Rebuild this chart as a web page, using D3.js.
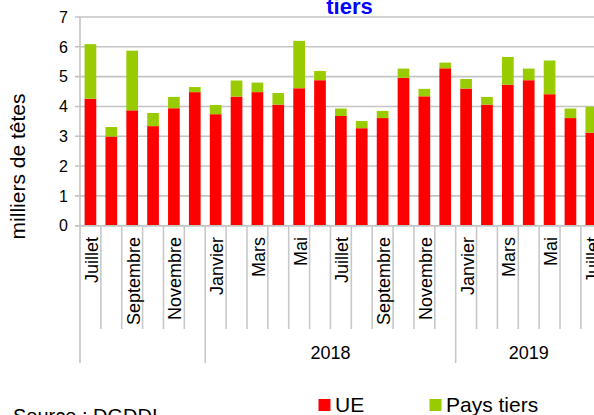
<!DOCTYPE html>
<html><head><meta charset="utf-8">
<script src="https://cdn.jsdelivr.net/npm/d3@7"></script>
<style>html,body{margin:0;padding:0;background:#fff;overflow:hidden}svg{display:block}</style>
</head><body>
<script>
const months = ["Juillet","Août","Septembre","Octobre","Novembre","Décembre","Janvier","Février","Mars","Avril","Mai","Juin","Juillet","Août","Septembre","Octobre","Novembre","Décembre","Janvier","Février","Mars","Avril","Mai","Juin","Juillet"];
const years = ["", "2018", "2019"];
const yearCounts = [6, 12, 7];
const ue = [4.26,2.99,3.87,3.34,3.94,4.48,3.74,4.33,4.48,4.06,4.61,4.88,3.68,3.27,3.61,4.96,4.34,5.28,4.60,4.06,4.73,4.88,4.41,3.61,3.12];
const paysTiers = [1.83,0.32,2.00,0.44,0.38,0.17,0.31,0.54,0.32,0.39,1.59,0.31,0.25,0.24,0.24,0.31,0.25,0.19,0.32,0.26,0.93,0.39,1.13,0.32,0.87];
const yTicks = [0,1,2,3,4,5,6,7];
const seriesNames = ["UE","Pays tiers"];
const colors = ["#ff0000","#99cc00"];

const W = 594, H = 415;
const font = "'Liberation Sans', Arial, sans-serif";
const svg = d3.select("body").append("svg").attr("width", W).attr("height", H);

const x0 = 80, step = 20.87;
const x = d3.scaleBand().domain(d3.range(months.length)).range([x0, x0 + step * months.length]).paddingInner(0.44).paddingOuter(0.22);
const y = d3.scaleLinear().domain([0, 7]).range([225.7, 17]);

// gridlines
svg.append("g").selectAll("line").data(yTicks).join("line")
  .attr("x1", 75).attr("x2", x.range()[1])
  .attr("y1", d => y(d)).attr("y2", d => y(d))
  .attr("stroke", "#c4c4c4").attr("stroke-width", 1.6);

// y tick labels
svg.append("g").selectAll("text").data(yTicks).join("text")
  .attr("x", 68).attr("y", d => y(d)).attr("dy", "0.36em")
  .attr("text-anchor", "end").attr("font-family", font).attr("font-size", 16).attr("fill", "#000")
  .text(d => d);

// stacked bars
const rows = months.map((m, i) => ({i, UE: ue[i], "Pays tiers": paysTiers[i]}));
const stack = d3.stack().keys(seriesNames)(rows);
svg.append("g").selectAll("g").data(stack).join("g").attr("fill", (d, k) => colors[k])
  .selectAll("rect").data(d => d).join("rect")
  .attr("x", d => x(d.data.i)).attr("width", x.bandwidth())
  .attr("y", d => y(d[1])).attr("height", d => y(d[0]) - y(d[1]));

// axis line at 0
svg.append("line").attr("x1", 75).attr("x2", x.range()[1]).attr("y1", y(0)).attr("y2", y(0))
  .attr("stroke", "#c4c4c4").attr("stroke-width", 1.6);
// left axis
svg.append("line").attr("x1", x0).attr("x2", x0).attr("y1", y(7)).attr("y2", 363)
  .attr("stroke", "#c4c4c4").attr("stroke-width", 1.6);

// category separators
const bounds = d3.range(1, months.length + 1).map(i => x0 + i * step);
const groupStarts = [];
let acc = 0;
yearCounts.forEach(c => { groupStarts.push(acc); acc += c; });
const groupBoundIdx = new Set(groupStarts.concat([acc]));
svg.append("g").selectAll("line").data(d3.range(1, months.length + 1)).join("line")
  .attr("x1", i => x0 + i * step).attr("x2", i => x0 + i * step)
  .attr("y1", y(0)).attr("y2", i => groupBoundIdx.has(i) ? 363 : 329)
  .attr("stroke", "#c8c8c8").attr("stroke-width", 1.6);

// month labels (every other)
svg.append("g").selectAll("text").data(months.map((m, i) => ({m, i})).filter(d => d.i % 2 === 0)).join("text")
  .attr("transform", d => `translate(${x(d.i) + x.bandwidth() / 2 + 7.5},237) rotate(-90)`)
  .attr("text-anchor", "end").attr("font-family", font).attr("font-size", 18).attr("fill", "#000")
  .text(d => d.m);

// year labels
svg.append("g").selectAll("text").data(years.map((yr, k) => ({yr, k}))).join("text")
  .attr("x", d => x0 + (groupStarts[d.k] + yearCounts[d.k] / 2) * step)
  .attr("y", 358.5).attr("text-anchor", "middle")
  .attr("font-family", font).attr("font-size", 18).attr("fill", "#000")
  .text(d => d.yr);

// y axis title
svg.append("text").attr("transform", "translate(25,166.5) rotate(-90)")
  .attr("text-anchor", "middle").attr("font-family", font).attr("font-size", 21).attr("fill", "#000")
  .text("milliers de têtes");

// chart title (only last line visible)
svg.append("text").attr("x", 349.5).attr("y", 14).attr("text-anchor", "middle")
  .attr("font-family", font).attr("font-size", 22).attr("font-weight", "bold").attr("fill", "#0000ff")
  .text("tiers");

// legend
const legX = [318.5, 429.5];
const leg = svg.append("g").selectAll("g").data(seriesNames).join("g");
leg.append("rect").attr("x", (d, k) => legX[k]).attr("y", 399).attr("width", 12).attr("height", 12)
  .attr("fill", (d, k) => colors[k]);
leg.append("text").attr("x", (d, k) => legX[k] + 16.5).attr("y", 412)
  .attr("font-family", font).attr("font-size", 21).attr("fill", "#000").text(d => d);

// source
svg.append("text").attr("x", 13).attr("y", 422.5).attr("font-family", font).attr("font-size", 20).attr("fill", "#000")
  .text("Source : DGDDI");
</script>
</body></html>
